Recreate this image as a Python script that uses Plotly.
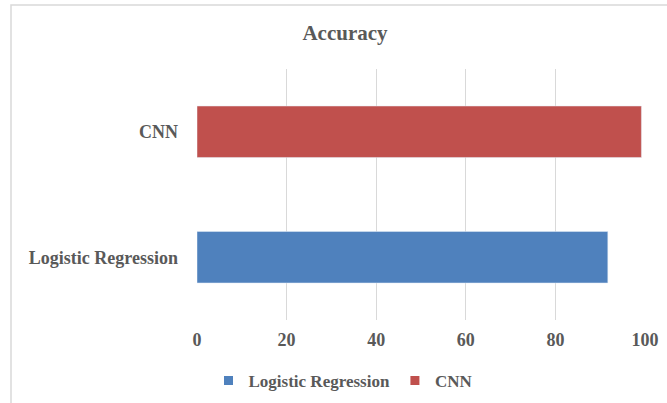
import plotly.graph_objects as go

# Model accuracy values (%)
models = ["Logistic Regression", "CNN"]
accuracy = [91.7, 99.2]
colors = ["#4f81bd", "#c0504d"]
x_ticks = [0, 20, 40, 60, 80, 100]

W, H = 667, 403
ML, MR, MT, MB = 197, 22, 69, 83
pw, ph = W - ML - MR, H - MT - MB

font_family = "Liberation Serif, Times New Roman, serif"
text_color = "#595959"

fig = go.Figure()
for name, val, col in zip(models, accuracy, colors):
    fig.add_trace(go.Bar(
        y=[name], x=[val], orientation="h", name=name,
        marker=dict(color=col), width=0.41, showlegend=False,
    ))
    # small square legend swatch
    fig.add_trace(go.Scatter(
        x=[None], y=[None], mode="markers", name=f"<b>{name}</b>",
        marker=dict(symbol="square", size=9, color=col),
    ))

# light frame around the chart area (left and top edges visible)
fig.add_shape(
    type="rect", xref="paper", yref="paper",
    x0=(11 - ML) / pw, x1=(W + 10 - ML) / pw,
    y0=-(H + 10 - MT - ph) / ph, y1=1 + (MT - 5) / ph,
    line=dict(color="#d9d9d9", width=1.5), fillcolor="rgba(0,0,0,0)",
    layer="below",
)

fig.update_layout(
    width=W, height=H,
    margin=dict(l=ML, r=MR, t=MT, b=MB, autoexpand=False),
    paper_bgcolor="white", plot_bgcolor="white",
    barmode="overlay",
    title=dict(text="<b>Accuracy</b>", x=345 / W, xanchor="center",
               y=1 - 33 / H, yanchor="middle",
               font=dict(family=font_family, size=21, color=text_color)),
    font=dict(family=font_family, size=18, color=text_color),
    xaxis=dict(range=[0, 100], tickvals=x_ticks,
               ticktext=[f"<b>{t}</b>" for t in x_ticks],
               showgrid=True, gridcolor="#d9d9d9", gridwidth=1,
               zeroline=False, showline=False, ticks="",
               ticklabelstandoff=7),
    yaxis=dict(categoryorder="array", categoryarray=models,
               tickvals=models, ticktext=[f"<b>{m}</b>" for m in models],
               showgrid=False, zeroline=False, showline=False, ticks="",
               ticklabelstandoff=18),
    legend=dict(orientation="h", x=(343 - ML) / pw, xanchor="center",
                y=-(381 - MT - ph) / ph, yanchor="middle",
                font=dict(family=font_family, size=17, color=text_color),
                itemwidth=30, traceorder="normal"),
    showlegend=True,
)

fig.write_html("out.html")
